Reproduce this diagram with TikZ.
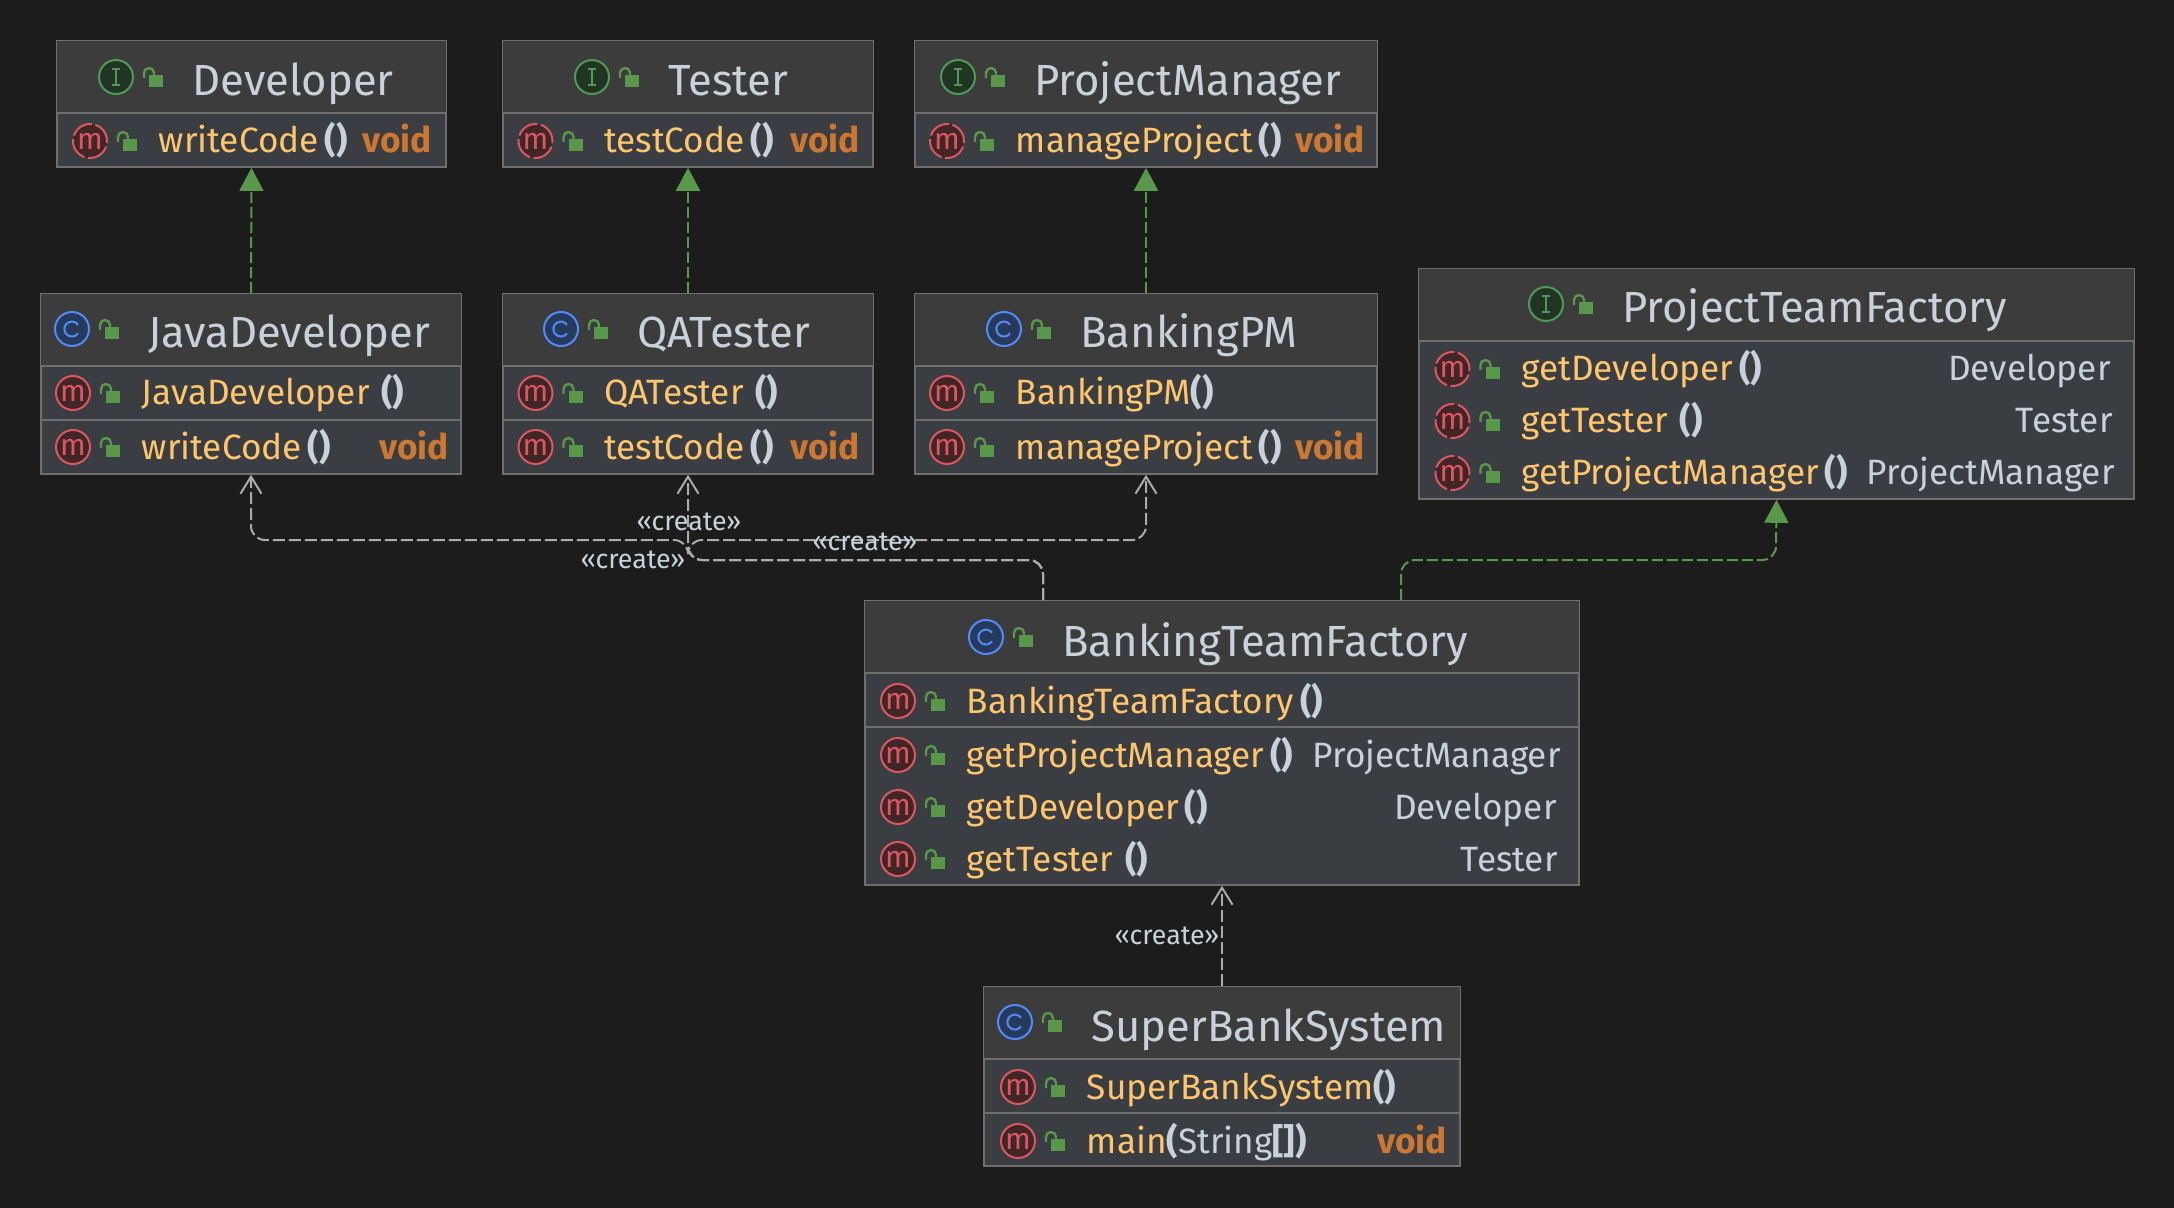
\documentclass[tikz,border=0pt]{standalone}
\usepackage{fontspec}
\setmainfont{Fira Sans}
\usepackage{xcolor}
\usetikzlibrary{arrows.meta, positioning, calc, fit}

\definecolor{canvas}{HTML}{1C1C1C}
\definecolor{headfill}{HTML}{3C3C3C}
\definecolor{rowfill}{HTML}{3A3E42}
\definecolor{frameline}{HTML}{6F6F6F}
\definecolor{titletext}{HTML}{C9D2DA}
\definecolor{methodtext}{HTML}{FFC66D}
\definecolor{voidtext}{HTML}{CC7832}
\definecolor{lockgreen}{HTML}{59984A}
\definecolor{implgreen}{HTML}{59984A}
\definecolor{createline}{HTML}{ABABAB}
\definecolor{ifacering}{HTML}{4F9A55}
\definecolor{ifacefill}{HTML}{223524}
\definecolor{classring}{HTML}{548AF7}
\definecolor{classfill}{HTML}{263A5C}
\definecolor{methodring}{HTML}{DB5860}
\definecolor{methodfill}{HTML}{422627}

\tikzset{
  lockpic/.pic={
    \fill[lockgreen] (-4,-2) rectangle (10,10);
    \draw[lockgreen, line width=1.2pt] (-9,1) -- (-9,-4) arc[start angle=180, end angle=360, radius=5] -- (1,-2);
  }
}

% title row: icon style, name, icon x, icon y, title
\newcommand{\classhead}[5]{
  \node[#1] (#2icon) at (#3,#4) {};
  \pic at ({#3+37},#4) {lockpic};
  \node[title] (#2title) at ({#3+76},{#4+19}) {#5};
}
% method row: icon style, name, icon x, icon y, text
\newcommand{\methodrow}[5]{
  \node[#1] (#2icon) at (#3,{#4+1}) {m};
  \pic at ({#3+37},{#4+1}) {lockpic};
  \node[method] (#2text) at ({#3+68.5},{#4+13}) {#5};
}
\newcommand{\pars}[1]{{\bfseries\color{titletext}#1}}

\begin{document}
\begin{tikzpicture}[
  x=0.5pt, y=-0.5pt,
  font=\fontsize{17.6}{21}\selectfont,
  classbox/.style={draw=frameline, line width=0.8pt, fill=rowfill, inner sep=0pt},
  rowline/.style={frameline, line width=0.8pt},
  title/.style={anchor=base west, inner sep=0pt, text=titletext, font=\fontsize{21.8}{26}\selectfont},
  method/.style={anchor=base west, inner sep=0pt, text=methodtext},
  rettype/.style={anchor=base east, inner sep=0pt, text=titletext},
  retvoid/.style={anchor=base east, inner sep=0pt, text=voidtext, font=\fontsize{17.6}{21}\selectfont\bfseries},
  icon/.style={circle, inner sep=0pt, minimum size=17pt, line width=1pt},
  iicon/.style={icon, draw=ifacering, fill=ifacefill, path picture={\draw[ifacering, line width=0.8pt] (path picture bounding box.center) ++(0,-8) -- ++(0,16) ++(-4,0) -- ++(8,0) ++(-8,-16) -- ++(8,0);}},
  cicon/.style={icon, draw=classring, fill=classfill, path picture={\draw[classring, line width=1pt] (path picture bounding box.center) ++(6,-4.2) arc[start angle=-35, end angle=-325, radius=7.5];}},
  micon/.style={icon, draw=methodring, fill=methodfill, text=methodring, font=\fontsize{15}{15}\selectfont},
  aicon/.style={micon, dash pattern=on 11.5pt off 1.8pt, dash phase=0.9pt},
  impl/.style={implgreen, line width=1pt, dash pattern=on 5.5pt off 2pt, -{Triangle[length=11.5pt, width=12pt]}, rounded corners=7pt},
  create/.style={createline, line width=1pt, dash pattern=on 6pt off 2pt, -{Straight Barb[length=8.5pt, width=10.5pt]}, rounded corners=7pt},
  createlbl/.style={inner sep=0pt, text=titletext, font=\fontsize{13.4}{16}\selectfont}
]
\fill[canvas] (0,0) rectangle (2174,1208);
\useasboundingbox (0,0) rectangle (2174,1208);

% INTERFACES
\node[classbox, fit={(57,41)(446,167)}] (dev) {};
\fill[headfill] (57,41) rectangle (446,113);
\draw[rowline] (57,113) -- (446,113);
\classhead{iicon}{devh}{116}{77}{Developer}
\methodrow{aicon}{devm}{90}{140}{writeCode\,\pars{()}}
\node[retvoid] (devv) at (432,153) {void};

\node[classbox, fit={(503,41)(873,167)}] (tes) {};
\fill[headfill] (503,41) rectangle (873,113);
\draw[rowline] (503,113) -- (873,113);
\classhead{iicon}{tesh}{592}{77}{Tester}
\methodrow{aicon}{tesm}{535.5}{140}{testCode\,\pars{()}}
\node[retvoid] (tesv) at (860,153) {void};

\node[classbox, fit={(915,41)(1377,167)}] (pm) {};
\fill[headfill] (915,41) rectangle (1377,113);
\draw[rowline] (915,113) -- (1377,113);
\classhead{iicon}{pmh}{958}{77}{ProjectManager}
\methodrow{aicon}{pmm}{947}{140}{manageProject\,\pars{()}}
\node[retvoid] (pmv) at (1365,153) {void};

\node[classbox, fit={(1419,269)(2134,499)}] (ptf) {};
\fill[headfill] (1419,269) rectangle (2134,341);
\draw[rowline] (1419,341) -- (2134,341);
\classhead{iicon}{ptfh}{1546}{304}{ProjectTeamFactory}
\methodrow{aicon}{ptfa}{1452.5}{368}{getDeveloper\,\pars{()}}
\node[rettype] (ptfar) at (2111,381) {Developer};
\methodrow{aicon}{ptfb}{1452.5}{420}{getTester\,\,\pars{()}}
\node[rettype] (ptfbr) at (2113,433) {Tester};
\methodrow{aicon}{ptfc}{1452.5}{472}{getProjectManager\,\pars{()}}
\node[rettype] (ptfcr) at (2115,485) {ProjectManager};

% IMPLEMENTATIONS
\node[classbox, fit={(41,294)(461,474)}] (jdev) {};
\fill[headfill] (41,294) rectangle (461,366);
\draw[rowline] (41,366) -- (461,366);
\draw[rowline] (41,420) -- (461,420);
\classhead{cicon}{jdevh}{72}{329}{JavaDeveloper}
\methodrow{micon}{jdeva}{73}{392}{JavaDeveloper\,\,\pars{()}}
\methodrow{micon}{jdevb}{73}{446}{writeCode\,\pars{()}}
\node[retvoid] (jdevv) at (449,459) {void};

\node[classbox, fit={(503,294)(873,474)}] (qat) {};
\fill[headfill] (503,294) rectangle (873,366);
\draw[rowline] (503,366) -- (873,366);
\draw[rowline] (503,420) -- (873,420);
\classhead{cicon}{qath}{561}{329}{QATester}
\methodrow{micon}{qata}{535.5}{392}{QATester\,\,\pars{()}}
\methodrow{micon}{qatb}{535.5}{446}{testCode\,\pars{()}}
\node[retvoid] (qatv) at (860,459) {void};

\node[classbox, fit={(915,294)(1377,474)}] (bpm) {};
\fill[headfill] (915,294) rectangle (1377,366);
\draw[rowline] (915,366) -- (1377,366);
\draw[rowline] (915,420) -- (1377,420);
\classhead{cicon}{bpmh}{1004}{329}{BankingPM}
\methodrow{micon}{bpma}{947}{392}{BankingPM\pars{()}}
\methodrow{micon}{bpmb}{947}{446}{manageProject\,\pars{()}}
\node[retvoid] (bpmv) at (1365,459) {void};

% FACTORY
\node[classbox, fit={(865,601)(1579,885)}] (btf) {};
\fill[headfill] (865,601) rectangle (1579,673);
\draw[rowline] (865,673) -- (1579,673);
\draw[rowline] (865,727) -- (1579,727);
\classhead{cicon}{btfh}{986}{637}{BankingTeamFactory}
\methodrow{micon}{btfa}{898}{700}{BankingTeamFactory\,\pars{()}}
\methodrow{micon}{btfb}{898}{754}{getProjectManager\,\pars{()}}
\node[rettype] (btfbr) at (1561,767) {ProjectManager};
\methodrow{micon}{btfc}{898}{806}{getDeveloper\,\pars{()}}
\node[rettype] (btfcr) at (1557,819) {Developer};
\methodrow{micon}{btfd}{898}{858}{getTester\,\,\pars{()}}
\node[rettype] (btfdr) at (1558,871) {Tester};

% CLIENT
\node[classbox, fit={(984,987)(1460,1166)}] (sbs) {};
\fill[headfill] (984,987) rectangle (1460,1059);
\draw[rowline] (984,1059) -- (1460,1059);
\draw[rowline] (984,1113) -- (1460,1113);
\classhead{cicon}{sbsh}{1015}{1022}{SuperBankSystem}
\methodrow{micon}{sbsa}{1018}{1086}{SuperBankSystem\pars{()}}
\methodrow{micon}{sbsb}{1018}{1140}{main\pars{(}{\color{titletext}String}\pars{[])}}
\node[retvoid] (sbsv) at (1447,1153) {void};

% ARROWS
\draw[impl] (jdev.north) -- (dev.south);
\draw[impl] (qat.north) -- (tes.south);
\draw[impl] (bpm.north) -- (pm.south);

\coordinate (btfleft) at ($(btf.north)+(-179,0)$);
\coordinate (btfright) at ($(btf.north)+(179,0)$);
\coordinate (lowbus) at (688,560);
\coordinate (highbus) at (688,540);
\coordinate (ptfbus) at (1776,560);

\draw[impl] (btfright) |- (ptfbus) -- (ptf.south);
\draw[create] (btfleft) |- (lowbus) -- (qat.south);
\draw[create] (btfleft) |- (lowbus) -- (highbus) -| (jdev.south);
\draw[create] (btfleft) |- (lowbus) -- (highbus) -| (bpm.south);
\draw[create] (sbs.north) -- (btf.south);

\node[createlbl] (lblqat) at (689,522) {«create»};
\node[createlbl] (lblbpm) at (865,542) {«create»};
\node[createlbl] (lbljdev) at (633,560) {«create»};
\node[createlbl] (lblbtf) at (1167,936) {«create»};
\end{tikzpicture}
\end{document}
